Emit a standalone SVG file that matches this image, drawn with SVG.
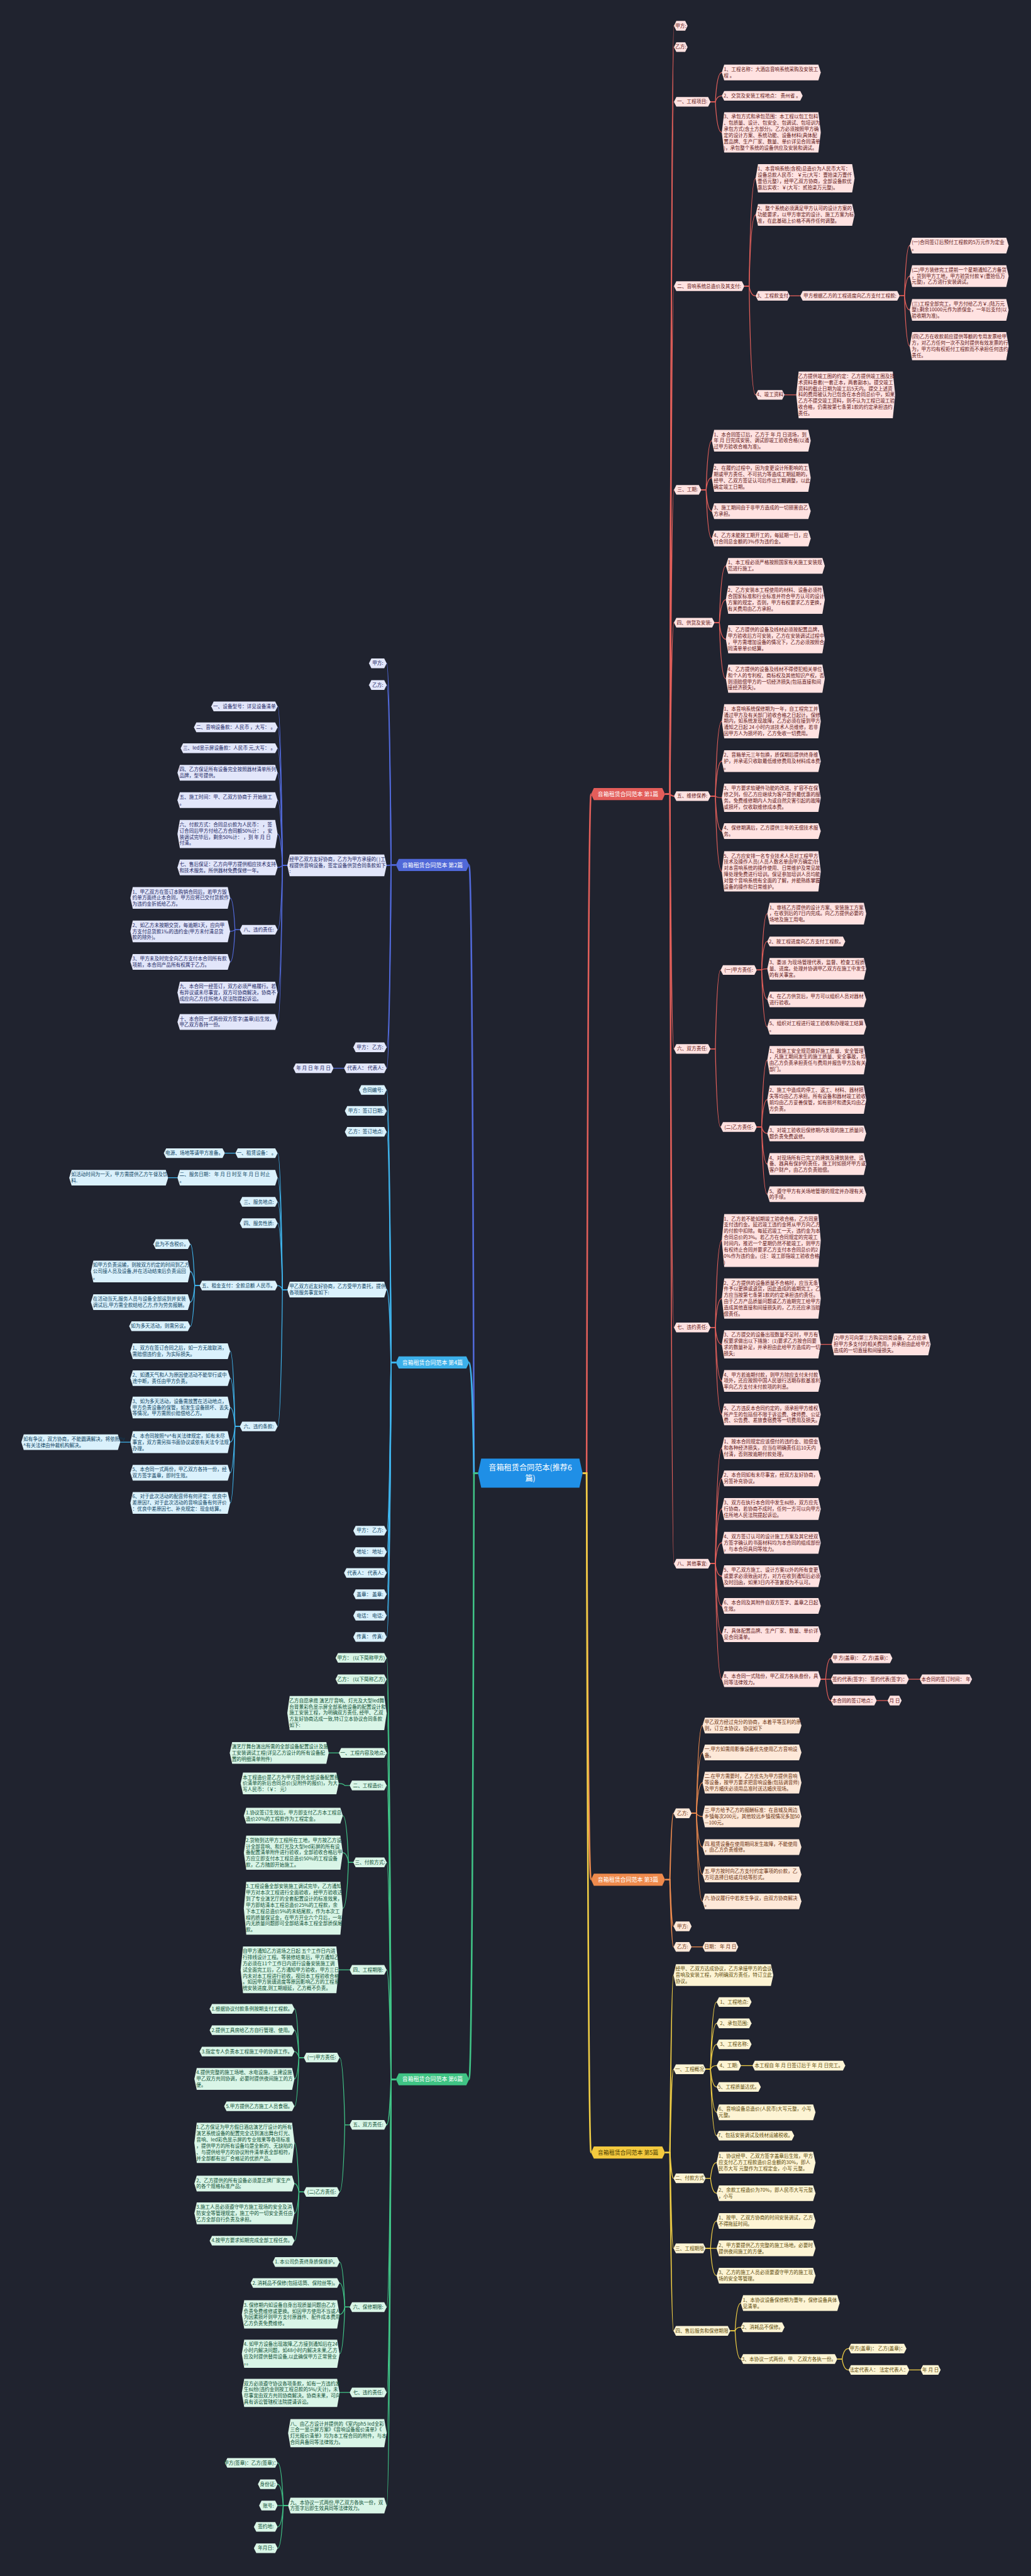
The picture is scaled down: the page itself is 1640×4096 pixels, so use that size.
<svg xmlns="http://www.w3.org/2000/svg" width="1640" height="4096" viewBox="0 0 1640 4096">
<style>
text{font-family:"Noto Sans CJK SC","Noto Sans",sans-serif;font-size:12px}
.c{text-anchor:middle}
.nr path{fill:#ffe2e1}.nr text{fill:#5e1414}
.no path{fill:#fde8d8}.no text{fill:#6a300c}
.ny path{fill:#fdf4d4}.ny text{fill:#5c4a08}
.ni path{fill:#e2e6fa}.ni text{fill:#18245e}
.ns path{fill:#daf1fc}.ns text{fill:#0b4260}
.ng path{fill:#d9f5e7}.ng text{fill:#0c4f33}
#connectors path{fill:none;stroke-width:2}
#connectors .t{stroke-width:4}
#connectors .m{stroke-width:3}
.cr{stroke:#e25f5a}.co{stroke:#ec8a4e}.cy{stroke:#efcd45}.ci{stroke:#5169d9}.cs{stroke:#3fb3eb}.cg{stroke:#40c487}
.b text{font-size:14px;fill:#fff;text-anchor:middle}
</style>
<rect width="1640" height="4096" fill="#20232f"/>
<g transform="scale(0.64)">
<g id="connectors">
<path class="cr t" d="M1448 3660H1458Q1462 1973 1469 1973"/>
<path class="co t" d="M1448 3660H1458Q1462 4670 1469 4670"/>
<path class="cy t" d="M1448 3660H1458Q1462 5348 1469 5348"/>
<path class="ci t" d="M1188 3660H1178Q1174 2149 1166 2149"/>
<path class="cs t" d="M1188 3660H1178Q1174 3385 1166 3385"/>
<path class="cg t" d="M1188 3660H1178Q1174 5166 1166 5166"/>
<g class="cr">
<path class="m" d="M1653 1973H1665Q1669 64 1675 64"/>
<path class="m" d="M1653 1973H1665Q1669 117 1675 117"/>
<path class="m" d="M1653 1973H1665Q1669 253 1675 253"/>
<path class="m" d="M1653 1973H1665Q1669 711 1675 711"/>
<path class="m" d="M1653 1973H1665Q1669 1217 1675 1217"/>
<path class="m" d="M1653 1973H1665Q1669 1547 1675 1547"/>
<path class="m" d="M1653 1973H1665Q1669 1978 1675 1978"/>
<path class="m" d="M1653 1973H1665Q1669 2606 1675 2606"/>
<path class="m" d="M1653 1973H1665Q1669 3298 1675 3298"/>
<path class="m" d="M1653 1973H1665Q1669 3885 1675 3885"/>
<path d="M1766 253H1778Q1782 180 1794 180"/>
<path d="M1766 253H1778Q1782 238 1794 238"/>
<path d="M1766 253H1778Q1782 329 1794 329"/>
<path d="M1850 711H1862Q1866 443 1878 443"/>
<path d="M1850 711H1862Q1866 534 1878 534"/>
<path d="M1850 711H1862Q1866 735 1878 735"/>
<path d="M1850 711H1862Q1866 981 1878 981"/>
<path d="M1963 735H1989"/>
<path d="M2236 735H2248Q2252 610 2261 610"/>
<path d="M2236 735H2248Q2252 686 2261 686"/>
<path d="M2236 735H2248Q2252 770 2261 770"/>
<path d="M2236 735H2248Q2252 860 2261 860"/>
<path d="M1950 981H1979"/>
<path d="M1743 1217H1755Q1759 1095 1769 1095"/>
<path d="M1743 1217H1755Q1759 1187 1769 1187"/>
<path d="M1743 1217H1755Q1759 1270 1769 1270"/>
<path d="M1743 1217H1755Q1759 1338 1769 1338"/>
<path d="M1776 1547H1788Q1792 1406 1804 1406"/>
<path d="M1776 1547H1788Q1792 1490 1804 1490"/>
<path d="M1776 1547H1788Q1792 1588 1804 1588"/>
<path d="M1776 1547H1788Q1792 1686 1804 1686"/>
<path d="M1766 1978H1778Q1782 1792 1794 1792"/>
<path d="M1766 1978H1778Q1782 1891 1794 1891"/>
<path d="M1766 1978H1778Q1782 1982 1794 1982"/>
<path d="M1766 1978H1778Q1782 2065 1794 2065"/>
<path d="M1766 1978H1778Q1782 2165 1794 2165"/>
<path d="M1766 2606H1778Q1782 2410 1791 2410"/>
<path d="M1766 2606H1778Q1782 2800 1791 2800"/>
<path d="M1881 2410H1893Q1897 2270 1907 2270"/>
<path d="M1881 2410H1893Q1897 2339 1907 2339"/>
<path d="M1881 2410H1893Q1897 2407 1907 2407"/>
<path d="M1881 2410H1893Q1897 2483 1907 2483"/>
<path d="M1881 2410H1893Q1897 2551 1907 2551"/>
<path d="M1881 2800H1893Q1897 2634 1907 2634"/>
<path d="M1881 2800H1893Q1897 2732 1907 2732"/>
<path d="M1881 2800H1893Q1897 2816 1907 2816"/>
<path d="M1881 2800H1893Q1897 2892 1907 2892"/>
<path d="M1881 2800H1893Q1897 2967 1907 2967"/>
<path d="M1766 3298H1778Q1782 3082 1794 3082"/>
<path d="M1766 3298H1778Q1782 3226 1794 3226"/>
<path d="M1766 3298H1778Q1782 3340 1794 3340"/>
<path d="M1766 3298H1778Q1782 3431 1794 3431"/>
<path d="M1766 3298H1778Q1782 3514 1794 3514"/>
<path d="M2040 3340H2067"/>
<path d="M1766 3885H1778Q1782 3598 1794 3598"/>
<path d="M1766 3885H1778Q1782 3673 1794 3673"/>
<path d="M1766 3885H1778Q1782 3749 1794 3749"/>
<path d="M1766 3885H1778Q1782 3833 1794 3833"/>
<path d="M1766 3885H1778Q1782 3916 1794 3916"/>
<path d="M1766 3885H1778Q1782 3990 1794 3990"/>
<path d="M1766 3885H1778Q1782 4060 1794 4060"/>
<path d="M1766 3885H1778Q1782 4172 1794 4172"/>
<path d="M2040 4172H2052Q2056 4120 2065 4120"/>
<path d="M2040 4172H2065"/>
<path d="M2040 4172H2052Q2056 4225 2065 4225"/>
<path d="M2259 4172H2286"/>
<path d="M2179 4225H2206"/>
</g>
<g class="co">
<path class="m" d="M1653 4670H1665Q1669 4505 1674 4505"/>
<path class="m" d="M1653 4670H1665Q1669 4786 1674 4786"/>
<path class="m" d="M1653 4670H1665Q1669 4837 1674 4837"/>
<path d="M1719 4505H1731Q1735 4287 1746 4287"/>
<path d="M1719 4505H1731Q1735 4354 1746 4354"/>
<path d="M1719 4505H1731Q1735 4429 1746 4429"/>
<path d="M1719 4505H1731Q1735 4513 1746 4513"/>
<path d="M1719 4505H1731Q1735 4589 1746 4589"/>
<path d="M1719 4505H1731Q1735 4657 1746 4657"/>
<path d="M1719 4505H1731Q1735 4724 1746 4724"/>
<path d="M1719 4837H1746"/>
</g>
<g class="cy">
<path class="m" d="M1653 5348H1665Q1669 4907 1674 4907"/>
<path class="m" d="M1653 5348H1665Q1669 5141 1674 5141"/>
<path class="m" d="M1653 5348H1665Q1669 5412 1674 5412"/>
<path class="m" d="M1653 5348H1665Q1669 5586 1674 5586"/>
<path class="m" d="M1653 5348H1665Q1669 5791 1674 5791"/>
<path d="M1754 5141H1766Q1770 4974 1781 4974"/>
<path d="M1754 5141H1766Q1770 5027 1781 5027"/>
<path d="M1754 5141H1766Q1770 5079 1781 5079"/>
<path d="M1754 5141H1766Q1770 5132 1781 5132"/>
<path d="M1754 5141H1766Q1770 5185 1781 5185"/>
<path d="M1754 5141H1766Q1770 5248 1781 5248"/>
<path d="M1754 5141H1766Q1770 5306 1781 5306"/>
<path d="M1842 5132H1870"/>
<path d="M1754 5412H1766Q1770 5373 1781 5373"/>
<path d="M1754 5412H1766Q1770 5449 1781 5449"/>
<path d="M1754 5586H1766Q1770 5518 1781 5518"/>
<path d="M1754 5586H1781"/>
<path d="M1754 5586H1766Q1770 5654 1781 5654"/>
<path d="M1815 5791H1827Q1831 5722 1841 5722"/>
<path d="M1815 5791H1827Q1831 5782 1841 5782"/>
<path d="M1815 5791H1827Q1831 5861 1841 5861"/>
<path d="M2081 5861H2093Q2097 5835 2109 5835"/>
<path d="M2081 5861H2093Q2097 5888 2109 5888"/>
<path d="M2260 5888H2288"/>
</g>
<g class="ci">
<path class="m" d="M984 2149H972Q968 1648 961 1648"/>
<path class="m" d="M984 2149H972Q968 1702 961 1702"/>
<path class="m" d="M984 2149H972Q968 2150 961 2150"/>
<path class="m" d="M984 2149H972Q968 2602 961 2602"/>
<path class="m" d="M984 2149H972Q968 2654 961 2654"/>
<path d="M714 2150H702Q698 1755 690 1755"/>
<path d="M714 2150H702Q698 1807 690 1807"/>
<path d="M714 2150H702Q698 1859 690 1859"/>
<path d="M714 2150H702Q698 1920 690 1920"/>
<path d="M714 2150H702Q698 1988 690 1988"/>
<path d="M714 2150H702Q698 2072 690 2072"/>
<path d="M714 2150H702Q698 2155 690 2155"/>
<path d="M714 2150H702Q698 2310 690 2310"/>
<path d="M714 2150H702Q698 2466 690 2466"/>
<path d="M714 2150H702Q698 2539 690 2539"/>
<path d="M596 2310H584Q580 2231 572 2231"/>
<path d="M596 2310H584Q580 2314 572 2314"/>
<path d="M596 2310H584Q580 2390 572 2390"/>
<path d="M855 2654H829"/>
</g>
<g class="cs">
<path class="m" d="M984 3385H972Q968 2708 961 2708"/>
<path class="m" d="M984 3385H972Q968 2760 961 2760"/>
<path class="m" d="M984 3385H972Q968 2812 961 2812"/>
<path class="m" d="M984 3385H972Q968 3204 961 3204"/>
<path class="m" d="M984 3385H972Q968 3803 961 3803"/>
<path class="m" d="M984 3385H972Q968 3856 961 3856"/>
<path class="m" d="M984 3385H972Q968 3908 961 3908"/>
<path class="m" d="M984 3385H972Q968 3961 961 3961"/>
<path class="m" d="M984 3385H972Q968 4014 961 4014"/>
<path class="m" d="M984 3385H972Q968 4067 961 4067"/>
<path d="M714 3204H702Q698 2865 690 2865"/>
<path d="M714 3204H702Q698 2926 690 2926"/>
<path d="M714 3204H702Q698 2986 690 2986"/>
<path d="M714 3204H702Q698 3039 690 3039"/>
<path d="M714 3204H702Q698 3194 690 3194"/>
<path d="M714 3204H702Q698 3544 690 3544"/>
<path d="M585 2865H559"/>
<path d="M441 2926H418"/>
<path d="M496 3194H484Q480 3091 473 3091"/>
<path d="M496 3194H484Q480 3159 473 3159"/>
<path d="M496 3194H484Q480 3235 473 3235"/>
<path d="M496 3194H484Q480 3295 473 3295"/>
<path d="M596 3544H584Q580 3357 572 3357"/>
<path d="M596 3544H584Q580 3424 572 3424"/>
<path d="M596 3544H584Q580 3497 572 3497"/>
<path d="M596 3544H584Q580 3583 572 3583"/>
<path d="M596 3544H584Q580 3659 572 3659"/>
<path d="M596 3544H584Q580 3734 572 3734"/>
<path d="M324 3583H299"/>
</g>
<g class="cg">
<path class="m" d="M984 5166H972Q968 4119 961 4119"/>
<path class="m" d="M984 5166H972Q968 4172 961 4172"/>
<path class="m" d="M984 5166H972Q968 4256 961 4256"/>
<path class="m" d="M984 5166H972Q968 4355 961 4355"/>
<path class="m" d="M984 5166H972Q968 4436 961 4436"/>
<path class="m" d="M984 5166H972Q968 4627 961 4627"/>
<path class="m" d="M984 5166H972Q968 4894 961 4894"/>
<path class="m" d="M984 5166H972Q968 5279 961 5279"/>
<path class="m" d="M984 5166H972Q968 5732 961 5732"/>
<path class="m" d="M984 5166H972Q968 5944 961 5944"/>
<path class="m" d="M984 5166H972Q968 6045 961 6045"/>
<path class="m" d="M984 5166H972Q968 6225 961 6225"/>
<path d="M842 4355H817"/>
<path d="M869 4436H857Q853 4431 842 4431"/>
<path d="M878 4627H866Q862 4511 852 4511"/>
<path d="M878 4627H866Q862 4603 852 4603"/>
<path d="M878 4627H866Q862 4741 852 4741"/>
<path d="M869 4894H842"/>
<path d="M869 5279H857Q853 5112 844 5112"/>
<path d="M869 5279H857Q853 5446 844 5446"/>
<path d="M755 5112H743Q739 4991 732 4991"/>
<path d="M755 5112H743Q739 5044 732 5044"/>
<path d="M755 5112H743Q739 5097 732 5097"/>
<path d="M755 5112H743Q739 5165 732 5165"/>
<path d="M755 5112H743Q739 5233 732 5233"/>
<path d="M755 5446H743Q739 5324 732 5324"/>
<path d="M755 5446H743Q739 5425 732 5425"/>
<path d="M755 5446H743Q739 5499 732 5499"/>
<path d="M755 5446H743Q739 5567 732 5567"/>
<path d="M869 5732H857Q853 5620 844 5620"/>
<path d="M869 5732H857Q853 5672 844 5672"/>
<path d="M869 5732H857Q853 5750 844 5750"/>
<path d="M869 5732H857Q853 5848 844 5848"/>
<path d="M869 5944H844"/>
<path d="M716 6225H704Q700 6119 690 6119"/>
<path d="M716 6225H704Q700 6172 690 6172"/>
<path d="M716 6225H690"/>
<path d="M716 6225H704Q700 6278 690 6278"/>
<path d="M716 6225H704Q700 6331 690 6331"/>
</g>
</g>

<g id="center"><path d="M1196 3624h244l8 36l-8 36h-244l-8 -36z" fill="#1f8fe6"/><text x="1318" y="3653" text-anchor="middle" fill="#fff" style="font-size:19px">音箱租赁合同范本(推荐6<tspan x="1318" dy="26">篇)</tspan></text></g>

<g id="b1" class="b"><path d="M1476 1958h170l7 15l-7 15h-170l-7 -15z" fill="#e35d5a"/><text x="1561" y="1978">音箱租赁合同范本 第1篇</text></g>
<g id="b3" class="b"><path d="M1476 4655h170l7 15l-7 15h-170l-7 -15z" fill="#ee8a4c"/><text x="1561" y="4675">音箱租赁合同范本 第3篇</text></g>
<g id="b5" class="b"><path d="M1476 5333h170l7 15l-7 15h-170l-7 -15z" fill="#f3c93e"/><text x="1561" y="5353" style="fill:#4a3b00">音箱租赁合同范本 第5篇</text></g>
<g id="b2" class="b"><path d="M991 2134h168l7 15l-7 15h-168l-7 -15z" fill="#5068d8"/><text x="1075" y="2154">音箱租赁合同范本 第2篇</text></g>
<g id="b4" class="b"><path d="M991 3370h168l7 15l-7 15h-168l-7 -15z" fill="#3cb0ea"/><text x="1075" y="3390">音箱租赁合同范本 第4篇</text></g>
<g id="b6" class="b"><path d="M991 5151h168l7 15l-7 15h-168l-7 -15z" fill="#3fc384"/><text x="1075" y="5171">音箱租赁合同范本 第6篇</text></g>

<g id="r1" class="nr"><path d="M1681 52h22l6 12l-6 12h-22l-6 -12z"/><text class="c" x="1692" y="68">甲方:</text></g>
<g id="r2" class="nr"><path d="M1681 105h22l6 12l-6 12h-22l-6 -12z"/><text class="c" x="1692" y="121">乙方:</text></g>
<g id="r3" class="nr"><path d="M1681 241h79l6 12l-6 12h-79l-6 -12z"/><text class="c" x="1720.5" y="257">一、工程项目:</text></g>
<g id="r4" class="nr"><path d="M1681 699h163l6 12l-6 12h-163l-6 -12z"/><text class="c" x="1762.5" y="715">二、音响系统总造价及其支付:</text></g>
<g id="r5" class="nr"><path d="M1681 1205h56l6 12l-6 12h-56l-6 -12z"/><text class="c" x="1709" y="1221">三、工期:</text></g>
<g id="r6" class="nr"><path d="M1681 1535h89l6 12l-6 12h-89l-6 -12z"/><text class="c" x="1725.5" y="1551">四、供货及安装:</text></g>
<g id="r7" class="nr"><path d="M1681 1966h79l6 12l-6 12h-79l-6 -12z"/><text class="c" x="1720.5" y="1982">五、维修保养:</text></g>
<g id="r8" class="nr"><path d="M1681 2594h79l6 12l-6 12h-79l-6 -12z"/><text class="c" x="1720.5" y="2610">六、双方责任:</text></g>
<g id="r9" class="nr"><path d="M1681 3286h79l6 12l-6 12h-79l-6 -12z"/><text class="c" x="1720.5" y="3302">七、违约责任:</text></g>
<g id="r10" class="nr"><path d="M1681 3873h79l6 12l-6 12h-79l-6 -12z"/><text class="c" x="1720.5" y="3889">八、其他事宜:</text></g>

<g id="r3a" class="nr"><path d="M1800 160.5h234l6 19.5l-6 19.5h-234l-6 -19.5z"/><text x="1799" y="176.3">1、工程名称：大酒店音响系统采购及安装工<tspan x="1799" dy="15.4">程 。</tspan></text></g>
<g id="r3b" class="nr"><path d="M1800 226h189l6 12l-6 12h-189l-6 -12z"/><text class="c" x="1894.5" y="242">2、交货及安装工程地点： 贵州省 。</text></g>
<g id="r3c" class="nr"><path d="M1800 279h234l6 50l-6 50h-234l-6 -50z"/><text x="1799" y="294.5">3、承包方式和承包范围：本工程以包工包料<tspan x="1799" dy="15.4">、包质量、设计、包安全、包调试、包培训为</tspan><tspan x="1799" dy="15.4">承包方式(含土方部分)。乙方必须按照甲方确</tspan><tspan x="1799" dy="15.4">定的设计方案、系统功能、设备材料(具体配</tspan><tspan x="1799" dy="15.4">置品牌、生产厂家、数量、单价详见合同清单</tspan><tspan x="1799" dy="15.4">)，承包整个系统的设备供应及安装和调试。</tspan></text></g>

<g id="r4a" class="nr"><path d="M1884 408h234l6 35l-6 35h-234l-6 -35z"/><text x="1883" y="423.9">1、本音响系统(含税)总造价为人民币大写：<tspan x="1883" dy="15.4">设备总款人民币： ￥元(大写：壹拾柒万壹仟</tspan><tspan x="1883" dy="15.4">壹佰元整），经甲乙双方协商，全部设备款优</tspan><tspan x="1883" dy="15.4">惠后实收：￥(大写：贰拾柒万元整)。</tspan></text></g>
<g id="r4b" class="nr"><path d="M1884 507h234l6 27l-6 27h-234l-6 -27z"/><text x="1883" y="522.6">2、整个系统必须满足甲方认可的设计方案的<tspan x="1883" dy="15.4">功能要求，以甲方审定的设计、施工方案为标</tspan><tspan x="1883" dy="15.4">准，在此基础上价格不再作任何调整。</tspan></text></g>
<g id="r4c" class="nr"><path d="M1884 723h73l6 12l-6 12h-73l-6 -12z"/><text class="c" x="1920.5" y="739">3、工程款支付</text></g>
<g id="r4c1" class="nr"><path d="M1995 723h235l6 12l-6 12h-235l-6 -12z"/><text class="c" x="2112.5" y="739">甲方根据乙方的工程进度向乙方支付工程款:</text></g>
<g id="r4c1a" class="nr"><path d="M2267 590.5h234l6 19.5l-6 19.5h-234l-6 -19.5z"/><text x="2266" y="606.3">(一)合同签订后预付工程款的5万元作为定金<tspan x="2266" dy="15.4">。</tspan></text></g>
<g id="r4c1b" class="nr"><path d="M2267 659h234l6 27l-6 27h-234l-6 -27z"/><text x="2266" y="674.6">(二)甲方装修完工提前一个星期通知乙方备货<tspan x="2266" dy="15.4">，货到甲方工地，甲方验货付款￥(壹拾伍万</tspan><tspan x="2266" dy="15.4">元整)，乙方进行安装调试。</tspan></text></g>
<g id="r4c1c" class="nr"><path d="M2267 743h234l6 27l-6 27h-234l-6 -27z"/><text x="2266" y="758.6">(三)工程全部完工，甲方付给乙方￥.(陆万元<tspan x="2266" dy="15.4">整);剩余10000元作为质保金，一年后支付(以</tspan><tspan x="2266" dy="15.4">验收期为准)。</tspan></text></g>
<g id="r4c1d" class="nr"><path d="M2267 825h234l6 35l-6 35h-234l-6 -35z"/><text x="2266" y="840.9">(四)乙方在收款前应提供等额的专用发票给甲<tspan x="2266" dy="15.4">方，对乙方任何一次不及时提供有效发票的行</tspan><tspan x="2266" dy="15.4">为，甲方均有权拒付工程款而不承担任何违约</tspan><tspan x="2266" dy="15.4">责任。</tspan></text></g>
<g id="r4d" class="nr"><path d="M1884 969h60l6 12l-6 12h-60l-6 -12z"/><text class="c" x="1914" y="985">4、竣工资料</text></g>
<g id="r4d1" class="nr"><path d="M1985 923h234l6 58l-6 58h-234l-6 -58z"/><text x="1984" y="938.8">乙方提供竣工图的约定：乙方提供竣工图及技<tspan x="1984" dy="15.4">术资料叁套(一套正本，两套副本)。提交竣工</tspan><tspan x="1984" dy="15.4">资料的截止日期为竣工后5天内。提交上述资</tspan><tspan x="1984" dy="15.4">料的费用被认为已包含在本合同总价中，如果</tspan><tspan x="1984" dy="15.4">乙方不提交竣工资料，则不认为工程已竣工验</tspan><tspan x="1984" dy="15.4">收合格，仍需按第七条第1款的约定承担违约</tspan><tspan x="1984" dy="15.4">责任。</tspan></text></g>

<g id="r5a" class="nr"><path d="M1775 1068h234l6 27l-6 27h-234l-6 -27z"/><text x="1774" y="1083.6">1、本合同签订后，乙方于 年 月 日进场，到<tspan x="1774" dy="15.4">年 月 日完成安装、调试即竣工验收合格(以通</tspan><tspan x="1774" dy="15.4">过甲方验收合格为准)。</tspan></text></g>
<g id="r5b" class="nr"><path d="M1775 1152h234l6 35l-6 35h-234l-6 -35z"/><text x="1774" y="1167.9">2、在履约过程中，因为变更设计所影响的工<tspan x="1774" dy="15.4">期或甲方责任、不可抗力等造成工期延期的，</tspan><tspan x="1774" dy="15.4">经甲、乙双方签证认可后作出工期调整，以此</tspan><tspan x="1774" dy="15.4">确定竣工日期。</tspan></text></g>
<g id="r5c" class="nr"><path d="M1775 1250.5h234l6 19.5l-6 19.5h-234l-6 -19.5z"/><text x="1774" y="1266.3">3、施工期间由于非甲方造成的一切损害由乙<tspan x="1774" dy="15.4">方承担。</tspan></text></g>
<g id="r5d" class="nr"><path d="M1775 1318.5h234l6 19.5l-6 19.5h-234l-6 -19.5z"/><text x="1774" y="1334.3">4、乙方未能按工期开工的，每延期一日，应<tspan x="1774" dy="15.4">付合同总金额的3%作为违约金。</tspan></text></g>

<g id="r6a" class="nr"><path d="M1810 1386.5h234l6 19.5l-6 19.5h-234l-6 -19.5z"/><text x="1809" y="1402.3">1、本工程必须严格按照国家有关施工安装规<tspan x="1809" dy="15.4">范进行施工。</tspan></text></g>
<g id="r6b" class="nr"><path d="M1810 1455h234l6 35l-6 35h-234l-6 -35z"/><text x="1809" y="1470.9">2、乙方安装本工程使用的材料、设备必须符<tspan x="1809" dy="15.4">合国家标准和行业标准并符合甲方认可的设计</tspan><tspan x="1809" dy="15.4">方案的规定，否则，甲方有权要求乙方更换，</tspan><tspan x="1809" dy="15.4">有关费用由乙方承担。</tspan></text></g>
<g id="r6c" class="nr"><path d="M1810 1553h234l6 35l-6 35h-234l-6 -35z"/><text x="1809" y="1568.9">3、乙方提供的设备及线材必须按配置品牌，<tspan x="1809" dy="15.4">甲方验收后方可安装，乙方在安装调试过程中</tspan><tspan x="1809" dy="15.4">，甲方需增加设备的情况下，乙方必须按照合</tspan><tspan x="1809" dy="15.4">同清单单价结算。</tspan></text></g>
<g id="r6d" class="nr"><path d="M1810 1651h234l6 35l-6 35h-234l-6 -35z"/><text x="1809" y="1666.9">4、乙方提供的设备及线材不得侵犯相关单位<tspan x="1809" dy="15.4">和个人的专利权、商标权及其他知识产权，否</tspan><tspan x="1809" dy="15.4">则须赔偿甲方的一切经济损失(包括直接和间</tspan><tspan x="1809" dy="15.4">接经济损失)。</tspan></text></g>

<g id="r7a" class="nr"><path d="M1800 1749.5h234l6 42.5l-6 42.5h-234l-6 -42.5z"/><text x="1799" y="1765.2">1、本音响系统保修期为一年，自工程完工并<tspan x="1799" dy="15.4">通过甲方及有关部门验收合格之日起计。保修</tspan><tspan x="1799" dy="15.4">期内，如系统发现故障，乙方必须在接到甲方</tspan><tspan x="1799" dy="15.4">通知之日起 24 小时内派技术人员维修，若非</tspan><tspan x="1799" dy="15.4">因甲方人为损坏的，乙方免收一切费用。</tspan></text></g>
<g id="r7b" class="nr"><path d="M1800 1864h234l6 27l-6 27h-234l-6 -27z"/><text x="1799" y="1879.6">2、音箱单元三年包换，质保期后提供终身维<tspan x="1799" dy="15.4">护，并承诺只收取最低维修费用及材料成本费</tspan><tspan x="1799" dy="15.4">。</tspan></text></g>
<g id="r7c" class="nr"><path d="M1800 1947h234l6 35l-6 35h-234l-6 -35z"/><text x="1799" y="1962.9">3、甲方要求软硬件功能的改进、扩容不在保<tspan x="1799" dy="15.4">修之列，但乙方应继续为客户提供最优惠的服</tspan><tspan x="1799" dy="15.4">务。免费维修期内人为或自然灾害引起的故障</tspan><tspan x="1799" dy="15.4">或损坏，仅收取维修成本费。</tspan></text></g>
<g id="r7d" class="nr"><path d="M1800 2045.5h234l6 19.5l-6 19.5h-234l-6 -19.5z"/><text x="1799" y="2061.3">4、保修期满后，乙方提供三年的无偿技术服<tspan x="1799" dy="15.4">务。</tspan></text></g>
<g id="r7e" class="nr"><path d="M1800 2115h234l6 50l-6 50h-234l-6 -50z"/><text x="1799" y="2130.5">5、乙方应安排一名专业技术人员对工程甲方<tspan x="1799" dy="15.4">技术及操作人员(人员人数名单由甲方确定)针</tspan><tspan x="1799" dy="15.4">对本音响系统的操作使用、日常维护及常见故</tspan><tspan x="1799" dy="15.4">障处理免费进行培训。保证参加培训人员均能</tspan><tspan x="1799" dy="15.4">对整个音响系统有全面的了解，并能熟练掌握</tspan><tspan x="1799" dy="15.4">设备的操作和日常维护。</tspan></text></g>

<g id="r8a" class="nr"><path d="M1797 2398h78l6 12l-6 12h-78l-6 -12z"/><text class="c" x="1836" y="2414">(一)甲方责任:</text></g>
<g id="r8b" class="nr"><path d="M1797 2788h78l6 12l-6 12h-78l-6 -12z"/><text class="c" x="1836" y="2804">(二)乙方责任:</text></g>
<g id="r8a1" class="nr"><path d="M1913 2243h234l6 27l-6 27h-234l-6 -27z"/><text x="1912" y="2258.6">1、审核乙方提供的设计方案、安装施工方案<tspan x="1912" dy="15.4">，在收到后的7日内完成。向乙方提供必要的</tspan><tspan x="1912" dy="15.4">场地及施工用电。</tspan></text></g>
<g id="r8a2" class="nr"><path d="M1913 2327h182l6 12l-6 12h-182l-6 -12z"/><text class="c" x="2004" y="2343">2、按工程进度向乙方支付工程款。</text></g>
<g id="r8a3" class="nr"><path d="M1913 2380h234l6 27l-6 27h-234l-6 -27z"/><text x="1912" y="2395.6">3、委派 为现场管理代表，监督、检查工程质<tspan x="1912" dy="15.4">量、进度。处理并协调甲乙双方在施工中发生</tspan><tspan x="1912" dy="15.4">的有关事宜。</tspan></text></g>
<g id="r8a4" class="nr"><path d="M1913 2463.5h234l6 19.5l-6 19.5h-234l-6 -19.5z"/><text x="1912" y="2479.3">4、在乙方供货后，甲方可以组织人员对器材<tspan x="1912" dy="15.4">进行验收。</tspan></text></g>
<g id="r8a5" class="nr"><path d="M1913 2531.5h234l6 19.5l-6 19.5h-234l-6 -19.5z"/><text x="1912" y="2547.3">5、组织对工程进行竣工验收和办理竣工结算<tspan x="1912" dy="15.4">。</tspan></text></g>
<g id="r8b1" class="nr"><path d="M1913 2599h234l6 35l-6 35h-234l-6 -35z"/><text x="1912" y="2614.9">1、按施工安全规范做好施工质量、安全管理<tspan x="1912" dy="15.4">，凡施工期间发生的施工质量、安全事故，均</tspan><tspan x="1912" dy="15.4">由乙方负责承担责任与费用并报告甲方及有关</tspan><tspan x="1912" dy="15.4">部门。</tspan></text></g>
<g id="r8b2" class="nr"><path d="M1913 2697h234l6 35l-6 35h-234l-6 -35z"/><text x="1912" y="2712.9">2、施工中造成的停工、返工、材料、器材损<tspan x="1912" dy="15.4">失等均由乙方承担。所有设备和器材竣工验收</tspan><tspan x="1912" dy="15.4">前均由乙方妥善保管，如有损坏和遗失均由乙</tspan><tspan x="1912" dy="15.4">方负责。</tspan></text></g>
<g id="r8b3" class="nr"><path d="M1913 2796.5h234l6 19.5l-6 19.5h-234l-6 -19.5z"/><text x="1912" y="2812.3">3、对竣工验收后保修期内发现的施工质量问<tspan x="1912" dy="15.4">题负责免费返修。</tspan></text></g>
<g id="r8b4" class="nr"><path d="M1913 2865h234l6 27l-6 27h-234l-6 -27z"/><text x="1912" y="2880.6">4、对现场所有已完工的建筑及建筑装修、设<tspan x="1912" dy="15.4">备、器具有保护的责任，施工时如损坏甲方或</tspan><tspan x="1912" dy="15.4">客户财产，由乙方负责赔偿。</tspan></text></g>
<g id="r8b5" class="nr"><path d="M1913 2947.5h234l6 19.5l-6 19.5h-234l-6 -19.5z"/><text x="1912" y="2963.3">5、遵守甲方有关场地管理的规定并办理有关<tspan x="1912" dy="15.4">的手续。</tspan></text></g>

<g id="r9a" class="nr"><path d="M1800 3016.5h234l6 65.5l-6 65.5h-234l-6 -65.5z"/><text x="1799" y="3032.1">1、乙方若不能如期竣工验收合格，乙方同意<tspan x="1799" dy="15.4">支付违约金。延迟竣工违约金将从甲方向乙方</tspan><tspan x="1799" dy="15.4">的付款中扣除。每延迟竣工一天，违约金为本</tspan><tspan x="1799" dy="15.4">合同总价的3%。若乙方在合同规定的完竣工</tspan><tspan x="1799" dy="15.4">时间内，推迟一个星期仍然不能竣工，则甲方</tspan><tspan x="1799" dy="15.4">有权终止合同并要求乙方支付本合同总价的2</tspan><tspan x="1799" dy="15.4">0%作为违约金。(注：竣工即指竣工验收合格</tspan><tspan x="1799" dy="15.4">)</tspan></text></g>
<g id="r9b" class="nr"><path d="M1800 3176h234l6 50l-6 50h-234l-6 -50z"/><text x="1799" y="3191.5">2、乙方提供的设备质量不合格时，应当无条<tspan x="1799" dy="15.4">件予以更换或退货，因此造成的逾期完工，乙</tspan><tspan x="1799" dy="15.4">方应当按第七条第1款的约定承担违约责任。</tspan><tspan x="1799" dy="15.4">由于乙方产品质量问题或乙方逾期完工给甲方</tspan><tspan x="1799" dy="15.4">造成其他直接和间接损失的，乙方还应承当赔</tspan><tspan x="1799" dy="15.4">偿责任。</tspan></text></g>
<g id="r9c" class="nr"><path d="M1800 3305h234l6 35l-6 35h-234l-6 -35z"/><text x="1799" y="3320.9">3、乙方提交的设备出现数量不足时，甲方有<tspan x="1799" dy="15.4">权要求做出以下措施：(1)要求乙方按合同要</tspan><tspan x="1799" dy="15.4">求的数量补足，并承担由此给甲方造成的一切</tspan><tspan x="1799" dy="15.4">损失;</tspan></text></g>
<g id="r9c1" class="nr"><path d="M2073 3313h234l6 27l-6 27h-234l-6 -27z"/><text x="2072" y="3328.6">(2)甲方可向第三方购买同类设备，乙方应承<tspan x="2072" dy="15.4">担甲方多支付的相关费用，并承担由此给甲方</tspan><tspan x="2072" dy="15.4">造成的一切直接和间接损失。</tspan></text></g>
<g id="r9d" class="nr"><path d="M1800 3404h234l6 27l-6 27h-234l-6 -27z"/><text x="1799" y="3419.6">4、甲方若逾期付款，则甲方除应支付未付款<tspan x="1799" dy="15.4">项外，还应按照中国人民银行活期存款基准利</tspan><tspan x="1799" dy="15.4">率向乙方支付未付款项的利息。</tspan></text></g>
<g id="r9e" class="nr"><path d="M1800 3487h234l6 27l-6 27h-234l-6 -27z"/><text x="1799" y="3502.6">5、乙方违反本合同约定的，须承担甲方维权<tspan x="1799" dy="15.4">所产生的包括但不限于诉讼费、律师费、公证</tspan><tspan x="1799" dy="15.4">费、公告费、差旅食宿费等一切费用及损失。</tspan></text></g>

<g id="r10a" class="nr"><path d="M1800 3571h234l6 27l-6 27h-234l-6 -27z"/><text x="1799" y="3586.6">1、按本合同规定应该偿付的违约金、赔偿金<tspan x="1799" dy="15.4">和各种经济损失，应当在明确责任后10天内</tspan><tspan x="1799" dy="15.4">付清，否则按逾期付款处理。</tspan></text></g>
<g id="r10b" class="nr"><path d="M1800 3653.5h234l6 19.5l-6 19.5h-234l-6 -19.5z"/><text x="1799" y="3669.3">2、本合同如有未尽事宜，经双方友好协商，<tspan x="1799" dy="15.4">另签补充协议。</tspan></text></g>
<g id="r10c" class="nr"><path d="M1800 3722h234l6 27l-6 27h-234l-6 -27z"/><text x="1799" y="3737.6">3、双方在执行本合同中发生纠纷，双方应先<tspan x="1799" dy="15.4">行协商，若协商不成时，任何一方可以向甲方</tspan><tspan x="1799" dy="15.4">住所地人民法院提起诉讼。</tspan></text></g>
<g id="r10d" class="nr"><path d="M1800 3806h234l6 27l-6 27h-234l-6 -27z"/><text x="1799" y="3821.6">4、双方签订认可的设计施工方案及其它经双<tspan x="1799" dy="15.4">方签字确认的书面材料均为本合同的组成部份</tspan><tspan x="1799" dy="15.4">，与本合同具同等效力。</tspan></text></g>
<g id="r10e" class="nr"><path d="M1800 3889h234l6 27l-6 27h-234l-6 -27z"/><text x="1799" y="3904.6">5、甲乙双方施工、设计方案以外的所有变更<tspan x="1799" dy="15.4">或要求必须致函对方，对方在收到通知后必须</tspan><tspan x="1799" dy="15.4">及时回函，如果3日内不答复视为不认可。</tspan></text></g>
<g id="r10f" class="nr"><path d="M1800 3970.5h234l6 19.5l-6 19.5h-234l-6 -19.5z"/><text x="1799" y="3986.3">6、本合同及其附件自双方签字、盖章之日起<tspan x="1799" dy="15.4">生效。</tspan></text></g>
<g id="r10g" class="nr"><path d="M1800 4040.5h234l6 19.5l-6 19.5h-234l-6 -19.5z"/><text x="1799" y="4056.3">7、具体配置品牌、生产厂家、数量、单价详<tspan x="1799" dy="15.4">见合同清单。</tspan></text></g>
<g id="r10h" class="nr"><path d="M1800 4152.5h234l6 19.5l-6 19.5h-234l-6 -19.5z"/><text x="1799" y="4168.3">8、本合同一式陆份，甲乙双方各执叁份，具<tspan x="1799" dy="15.4">同等法律效力。</tspan></text></g>
<g id="r10h1" class="nr"><path d="M2071 4108h141l6 12l-6 12h-141l-6 -12z"/><text class="c" x="2141.5" y="4124">甲 方(盖章)： 乙 方(盖章)：</text></g>
<g id="r10h2" class="nr"><path d="M2071 4160h182l6 12l-6 12h-182l-6 -12z"/><text class="c" x="2162" y="4176">签约代表(签字)： 签约代表(签字)：</text></g>
<g id="r10h2a" class="nr"><path d="M2292 4160h118l6 12l-6 12h-118l-6 -12z"/><text class="c" x="2351" y="4176">本合同的签订时间： 年</text></g>
<g id="r10h3" class="nr"><path d="M2071 4213h102l6 12l-6 12h-102l-6 -12z"/><text class="c" x="2122" y="4229">本合同的签订地点：</text></g>
<g id="r10h3a" class="nr"><path d="M2212 4213h23l6 12l-6 12h-23l-6 -12z"/><text class="c" x="2223.5" y="4229">月 日</text></g>

<g id="o1" class="no"><path d="M1680 4493h33l6 12l-6 12h-33l-6 -12z"/><text class="c" x="1696.5" y="4509">乙方:</text></g>
<g id="o2" class="no"><path d="M1680 4774h33l6 12l-6 12h-33l-6 -12z"/><text class="c" x="1696.5" y="4790">甲方:</text></g>
<g id="o3" class="no"><path d="M1680 4825h33l6 12l-6 12h-33l-6 -12z"/><text class="c" x="1696.5" y="4841">乙方:</text></g>
<g id="o3a" class="no"><path d="M1752 4825h77l6 12l-6 12h-77l-6 -12z"/><text class="c" x="1790.5" y="4841">日期： 年 月 日</text></g>
<g id="o1a" class="no"><path d="M1752 4267.5h234l6 19.5l-6 19.5h-234l-6 -19.5z"/><text x="1751" y="4283.3">甲乙双方经过充分的协商，本着平等互利的原<tspan x="1751" dy="15.4">则，订立本协议，协议如下</tspan></text></g>
<g id="o1b" class="no"><path d="M1752 4334.5h234l6 19.5l-6 19.5h-234l-6 -19.5z"/><text x="1751" y="4350.3">一.甲方如需用影像设备优先使用乙方音响设<tspan x="1751" dy="15.4">备。</tspan></text></g>
<g id="o1c" class="no"><path d="M1752 4402h234l6 27l-6 27h-234l-6 -27z"/><text x="1751" y="4417.6">二.在甲方需要时，乙方优先为甲方提供音响<tspan x="1751" dy="15.4">等设备，按甲方要求把音响设备(包括调音师)</tspan><tspan x="1751" dy="15.4">及甲方婚庆必须用品准时送达婚庆现场。</tspan></text></g>
<g id="o1d" class="no"><path d="M1752 4486h234l6 27l-6 27h-234l-6 -27z"/><text x="1751" y="4501.6">三.甲方给予乙方的报酬标准：在县城及周边<tspan x="1751" dy="15.4">乡镇每次200元，其他较远乡镇视情况多加50</tspan><tspan x="1751" dy="15.4">—100元。</tspan></text></g>
<g id="o1e" class="no"><path d="M1752 4569.5h234l6 19.5l-6 19.5h-234l-6 -19.5z"/><text x="1751" y="4585.3">四.租赁设备在使用期间发生故障，不能使用<tspan x="1751" dy="15.4">，由乙方负责维修。</tspan></text></g>
<g id="o1f" class="no"><path d="M1752 4637.5h234l6 19.5l-6 19.5h-234l-6 -19.5z"/><text x="1751" y="4653.3">五.甲方按时向乙方支付约定事项的价款，乙<tspan x="1751" dy="15.4">方可选择日结或月结等形式。</tspan></text></g>
<g id="o1g" class="no"><path d="M1752 4704.5h234l6 19.5l-6 19.5h-234l-6 -19.5z"/><text x="1751" y="4720.3">六.协议履行中若发生争议，由双方协商解决<tspan x="1751" dy="15.4">。</tspan></text></g>

<g id="y1" class="ny"><path d="M1680 4880h236l6 27l-6 27h-236l-6 -27z"/><text x="1679" y="4895.6">经甲、乙双方达成协议，乙方承接甲方的会议<tspan x="1679" dy="15.4">音响及安装工程，为明确双方责任，特订立此</tspan><tspan x="1679" dy="15.4">协议。</tspan></text></g>
<g id="y2" class="ny"><path d="M1680 5129h68l6 12l-6 12h-68l-6 -12z"/><text class="c" x="1714" y="5145">一、工程概况</text></g>
<g id="y3" class="ny"><path d="M1680 5400h68l6 12l-6 12h-68l-6 -12z"/><text class="c" x="1714" y="5416">二、付款方式</text></g>
<g id="y4" class="ny"><path d="M1680 5574h68l6 12l-6 12h-68l-6 -12z"/><text class="c" x="1714" y="5590">三、工程期限</text></g>
<g id="y5" class="ny"><path d="M1680 5779h129l6 12l-6 12h-129l-6 -12z"/><text class="c" x="1744.5" y="5795">四、售后服务和保修期限</text></g>
<g id="y2a" class="ny"><path d="M1787 4962h75l6 12l-6 12h-75l-6 -12z"/><text class="c" x="1824.5" y="4978">1、工程地点:</text></g>
<g id="y2b" class="ny"><path d="M1787 5015h75l6 12l-6 12h-75l-6 -12z"/><text class="c" x="1824.5" y="5031">2、承包范围:</text></g>
<g id="y2c" class="ny"><path d="M1787 5067h75l6 12l-6 12h-75l-6 -12z"/><text class="c" x="1824.5" y="5083">3、工程名称:</text></g>
<g id="y2d" class="ny"><path d="M1787 5120h49l6 12l-6 12h-49l-6 -12z"/><text class="c" x="1811.5" y="5136">4、工期:</text></g>
<g id="y2d1" class="ny"><path d="M1876 5120h219l6 12l-6 12h-219l-6 -12z"/><text class="c" x="1985.5" y="5136">本工程自 年 月 日签订后于 年 月 日完工。</text></g>
<g id="y2e" class="ny"><path d="M1787 5173h98l6 12l-6 12h-98l-6 -12z"/><text class="c" x="1836" y="5189">5、工程质量达优。</text></g>
<g id="y2f" class="ny"><path d="M1787 5228.5h234l6 19.5l-6 19.5h-234l-6 -19.5z"/><text x="1786" y="5244.3">6、音响设备总造价(人民币)大写元整，小写<tspan x="1786" dy="15.4">元整。</tspan></text></g>
<g id="y2g" class="ny"><path d="M1787 5294h181l6 12l-6 12h-181l-6 -12z"/><text class="c" x="1877.5" y="5310">7、包括安装调试及线材运输税收。</text></g>
<g id="y3a" class="ny"><path d="M1787 5346h234l6 27l-6 27h-234l-6 -27z"/><text x="1786" y="5361.6">1、协议经甲、乙双方签字盖章后生效，甲方<tspan x="1786" dy="15.4">应支付乙方工程款造价总金额的30%，即人</tspan><tspan x="1786" dy="15.4">民币大写 元整作为工程定金，小写 元整。</tspan></text></g>
<g id="y3b" class="ny"><path d="M1787 5429.5h234l6 19.5l-6 19.5h-234l-6 -19.5z"/><text x="1786" y="5445.3">2、余款工程造价为70%，即人民币大写元整<tspan x="1786" dy="15.4">，小写</tspan></text></g>
<g id="y4a" class="ny"><path d="M1787 5498.5h234l6 19.5l-6 19.5h-234l-6 -19.5z"/><text x="1786" y="5514.3">1、按甲、乙双方协商的时间安装调试，乙方<tspan x="1786" dy="15.4">不得拖延时间。</tspan></text></g>
<g id="y4b" class="ny"><path d="M1787 5566.5h234l6 19.5l-6 19.5h-234l-6 -19.5z"/><text x="1786" y="5582.3">2、甲方要提供乙方完整的施工场地，必要时<tspan x="1786" dy="15.4">提供夜间施工的方便。</tspan></text></g>
<g id="y4c" class="ny"><path d="M1787 5634.5h234l6 19.5l-6 19.5h-234l-6 -19.5z"/><text x="1786" y="5650.3">3、乙方的施工人员必须要遵守甲方的施工现<tspan x="1786" dy="15.4">场的安全等管理。</tspan></text></g>
<g id="y5a" class="ny"><path d="M1847 5702.5h234l6 19.5l-6 19.5h-234l-6 -19.5z"/><text x="1846" y="5718.3">1、本协议设备保修期为壹年，保修设备具体<tspan x="1846" dy="15.4">见清单。</tspan></text></g>
<g id="y5b" class="ny"><path d="M1847 5770h97l6 12l-6 12h-97l-6 -12z"/><text class="c" x="1895.5" y="5786">2、消耗品不保修。</text></g>
<g id="y5c" class="ny"><path d="M1847 5849h228l6 12l-6 12h-228l-6 -12z"/><text class="c" x="1961" y="5865">3、本协议一式两份，甲、乙双方各执一份。</text></g>
<g id="y5c1" class="ny"><path d="M2115 5823h132l6 12l-6 12h-132l-6 -12z"/><text class="c" x="2181" y="5839">甲方(盖章)： 乙方(盖章)：</text></g>
<g id="y5c2" class="ny"><path d="M2115 5876h139l6 12l-6 12h-139l-6 -12z"/><text class="c" x="2184.5" y="5892">法定代表人： 法定代表人：</text></g>
<g id="y5c2a" class="ny"><path d="M2294 5876h38l6 12l-6 12h-38l-6 -12z"/><text class="c" x="2313" y="5892">年 月 日</text></g>

<g id="l1" class="ni"><path d="M923 1636h32l6 12l-6 12h-32l-6 -12z"/><text class="c" x="939" y="1652">甲方:</text></g>
<g id="l2" class="ni"><path d="M923 1690h32l6 12l-6 12h-32l-6 -12z"/><text class="c" x="939" y="1706">乙方:</text></g>
<g id="l3" class="ni"><path d="M720 2123h235l6 27l-6 27h-235l-6 -27z"/><text x="719" y="2138.6">经甲乙双方友好协商，乙方为甲方承接的( )工<tspan x="719" dy="15.4">程提供音响设备，签定设备供货合同条款如下</tspan><tspan x="719" dy="15.4">:</tspan></text></g>
<g id="l4" class="ni"><path d="M884 2590h71l6 12l-6 12h-71l-6 -12z"/><text class="c" x="919.5" y="2606">甲方： 乙方:</text></g>
<g id="l5" class="ni"><path d="M861 2642h94l6 12l-6 12h-94l-6 -12z"/><text class="c" x="908" y="2658">代表人： 代表人:</text></g>
<g id="l5a" class="ni"><path d="M735 2642h88l6 12l-6 12h-88l-6 -12z"/><text class="c" x="779" y="2658">年 月 日 年 月 日</text></g>
<g id="l3a" class="ni"><path d="M531 1743h153l6 12l-6 12h-153l-6 -12z"/><text class="c" x="607.5" y="1759">一、设备型号：详见设备清单</text></g>
<g id="l3b" class="ni"><path d="M488 1795h196l6 12l-6 12h-196l-6 -12z"/><text class="c" x="586" y="1811">二、音响设备款：人民币 ，大写： 。</text></g>
<g id="l3c" class="ni"><path d="M455 1847h229l6 12l-6 12h-229l-6 -12z"/><text class="c" x="569.5" y="1863">三、led显示屏设备款：人民币 元,大写： 。</text></g>
<g id="l3d" class="ni"><path d="M447 1900.5h237l6 19.5l-6 19.5h-237l-6 -19.5z"/><text x="446" y="1916.3">四、乙方保证所有设备完全按照器材清单所列<tspan x="446" dy="15.4">品牌，型号提供。</tspan></text></g>
<g id="l3e" class="ni"><path d="M447 1968.5h237l6 19.5l-6 19.5h-237l-6 -19.5z"/><text x="446" y="1984.3">五、施工时间：甲、乙双方协商于 开始施工<tspan x="446" dy="15.4">。</tspan></text></g>
<g id="l3f" class="ni"><path d="M447 2037h237l6 35l-6 35h-237l-6 -35z"/><text x="446" y="2052.9">六、付款方式：合同总价款为人民币： ，签<tspan x="446" dy="15.4">订合同后甲方付给乙方合同额50%计： ，安</tspan><tspan x="446" dy="15.4">装调试完毕后，剩余50%计： ，到 年 月 日</tspan><tspan x="446" dy="15.4">付清。</tspan></text></g>
<g id="l3g" class="ni"><path d="M447 2135.5h237l6 19.5l-6 19.5h-237l-6 -19.5z"/><text x="446" y="2151.3">七、售后保证：乙方向甲方提供相应技术支持<tspan x="446" dy="15.4">和技术服务。所供器材免费保修一年。</tspan></text></g>
<g id="l3h" class="ni"><path d="M602 2298h82l6 12l-6 12h-82l-6 -12z"/><text class="c" x="643" y="2314">八、违约责任:</text></g>
<g id="l3h1" class="ni"><path d="M330 2204h236l6 27l-6 27h-236l-6 -27z"/><text x="329" y="2219.6">1、甲乙双方在签订本购销合同后，若甲方毁<tspan x="329" dy="15.4">约单方面终止本合同，甲方应将已交付货款作</tspan><tspan x="329" dy="15.4">为违约金折抵给乙方。</tspan></text></g>
<g id="l3h2" class="ni"><path d="M330 2287h236l6 27l-6 27h-236l-6 -27z"/><text x="329" y="2302.6">2、如乙方未按期交货，每逾期1天，应向甲<tspan x="329" dy="15.4">方支付总货款1‰的违约金(甲方未付清总货</tspan><tspan x="329" dy="15.4">款的除外)。</tspan></text></g>
<g id="l3h3" class="ni"><path d="M330 2370.5h236l6 19.5l-6 19.5h-236l-6 -19.5z"/><text x="329" y="2386.3">3、甲方未及时完全向乙方支付本合同所有款<tspan x="329" dy="15.4">项前，本合同产品所有权属于乙方。</tspan></text></g>
<g id="l3i" class="ni"><path d="M447 2439h237l6 27l-6 27h-237l-6 -27z"/><text x="446" y="2454.6">九、本合同一经签订，双方必须严格履行。若<tspan x="446" dy="15.4">有异议或未尽事宜，双方可协商解决，协商不</tspan><tspan x="446" dy="15.4">成应向乙方住所地人民法院提起诉讼。</tspan></text></g>
<g id="l3j" class="ni"><path d="M447 2519.5h237l6 19.5l-6 19.5h-237l-6 -19.5z"/><text x="446" y="2535.3">十、本合同一式两份双方签字(盖章)后生效，<tspan x="446" dy="15.4">甲乙双方各持一份。</tspan></text></g>

<g id="s1" class="ns"><path d="M898 2696h57l6 12l-6 12h-57l-6 -12z"/><text class="c" x="926.5" y="2712">合同编号:</text></g>
<g id="s2" class="ns"><path d="M863 2748h92l6 12l-6 12h-92l-6 -12z"/><text class="c" x="909" y="2764">甲方：签订日期:</text></g>
<g id="s3" class="ns"><path d="M863 2800h92l6 12l-6 12h-92l-6 -12z"/><text class="c" x="909" y="2816">乙方：签订地点:</text></g>
<g id="s4" class="ns"><path d="M720 3184.5h235l6 19.5l-6 19.5h-235l-6 -19.5z"/><text x="719" y="3200.3">甲乙双方近友好协商，乙方受甲方委托，提供<tspan x="719" dy="15.4">各项服务事宜如下:</tspan></text></g>
<g id="s5" class="ns"><path d="M884 3791h71l6 12l-6 12h-71l-6 -12z"/><text class="c" x="919.5" y="3807">甲方： 乙方:</text></g>
<g id="s6" class="ns"><path d="M884 3844h71l6 12l-6 12h-71l-6 -12z"/><text class="c" x="919.5" y="3860">地址： 地址:</text></g>
<g id="s7" class="ns"><path d="M861 3896h94l6 12l-6 12h-94l-6 -12z"/><text class="c" x="908" y="3912">代表人： 代表人:</text></g>
<g id="s8" class="ns"><path d="M884 3949h71l6 12l-6 12h-71l-6 -12z"/><text class="c" x="919.5" y="3965">盖章： 盖章:</text></g>
<g id="s9" class="ns"><path d="M884 4002h71l6 12l-6 12h-71l-6 -12z"/><text class="c" x="919.5" y="4018">电话： 电话:</text></g>
<g id="s10" class="ns"><path d="M884 4055h71l6 12l-6 12h-71l-6 -12z"/><text class="c" x="919.5" y="4071">传真： 传真:</text></g>
<g id="s4a" class="ns"><path d="M591 2853h93l6 12l-6 12h-93l-6 -12z"/><text class="c" x="637.5" y="2869">一、租赁设备： 。</text></g>
<g id="s4a1" class="ns"><path d="M413 2853h140l6 12l-6 12h-140l-6 -12z"/><text class="c" x="483" y="2869">电源、场地等请甲方准备。</text></g>
<g id="s4b" class="ns"><path d="M447 2906.5h237l6 19.5l-6 19.5h-237l-6 -19.5z"/><text x="446" y="2922.3">二、服务日期： 年 月 日 时至 年 月 日 时止<tspan x="446" dy="15.4">。</tspan></text></g>
<g id="s4b1" class="ns"><path d="M178 2906.5h234l6 19.5l-6 19.5h-234l-6 -19.5z"/><text x="177" y="2922.3">如活动时间为一天，甲方需提供乙方午餐及饮<tspan x="177" dy="15.4">料.</tspan></text></g>
<g id="s4c" class="ns"><path d="M602 2974h82l6 12l-6 12h-82l-6 -12z"/><text class="c" x="643" y="2990">三、服务地点:</text></g>
<g id="s4d" class="ns"><path d="M602 3027h82l6 12l-6 12h-82l-6 -12z"/><text class="c" x="643" y="3043">四、服务性质:</text></g>
<g id="s4e" class="ns"><path d="M502 3182h182l6 12l-6 12h-182l-6 -12z"/><text class="c" x="593" y="3198">五、租金支付：全款总额 人民币。</text></g>
<g id="s4e1" class="ns"><path d="M387 3079h80l6 12l-6 12h-80l-6 -12z"/><text class="c" x="427" y="3095">此为不含税价。</text></g>
<g id="s4e2" class="ns"><path d="M232 3132h235l6 27l-6 27h-235l-6 -27z"/><text x="231" y="3147.6">如甲方负责运输，则按双方约定的时间到乙方<tspan x="231" dy="15.4">公司接人员及设备,并在活动结束后负责运回</tspan><tspan x="231" dy="15.4">。</tspan></text></g>
<g id="s4e3" class="ns"><path d="M232 3215.5h235l6 19.5l-6 19.5h-235l-6 -19.5z"/><text x="231" y="3231.3">在活动当天,服务人员与设备全部运到并安装<tspan x="231" dy="15.4">调试后,甲方需全款结给乙方,作为劳务报酬。</tspan></text></g>
<g id="s4e4" class="ns"><path d="M327 3283h140l6 12l-6 12h-140l-6 -12z"/><text class="c" x="397" y="3299">如为多天活动，则需另议。</text></g>
<g id="s4f" class="ns"><path d="M602 3532h82l6 12l-6 12h-82l-6 -12z"/><text class="c" x="643" y="3548">六、违约条款:</text></g>
<g id="s4f1" class="ns"><path d="M330 3337.5h236l6 19.5l-6 19.5h-236l-6 -19.5z"/><text x="329" y="3353.3">1、双方在签订合同之后，如一方无故取消，<tspan x="329" dy="15.4">需赔偿违约金，为实际损失。</tspan></text></g>
<g id="s4f2" class="ns"><path d="M330 3404.5h236l6 19.5l-6 19.5h-236l-6 -19.5z"/><text x="329" y="3420.3">2、如遇天气和人为原因使活动不能举行或中<tspan x="329" dy="15.4">途中断，责任由甲方负责。</tspan></text></g>
<g id="s4f3" class="ns"><path d="M330 3470h236l6 27l-6 27h-236l-6 -27z"/><text x="329" y="3485.6">3、如为多天活动，设备需放置在活动地点，<tspan x="329" dy="15.4">甲方负责设备的保管，如发生设备损坏、丢失</tspan><tspan x="329" dy="15.4">等情况，甲方需照价赔偿给乙方。</tspan></text></g>
<g id="s4f4" class="ns"><path d="M330 3556h236l6 27l-6 27h-236l-6 -27z"/><text x="329" y="3571.6">4、本合同按照^v^有关法律规定，如有未尽<tspan x="329" dy="15.4">事宜，双方需另拟书面协议或依有关法令法规</tspan><tspan x="329" dy="15.4">办理。</tspan></text></g>
<g id="s4f4a" class="ns"><path d="M59 3563.5h234l6 19.5l-6 19.5h-234l-6 -19.5z"/><text x="58" y="3579.3">如有争议，双方协商，不能圆满解决，将依照^v<tspan x="58" dy="15.4">^有关法律由仲裁机构解决。</tspan></text></g>
<g id="s4f5" class="ns"><path d="M330 3639.5h236l6 19.5l-6 19.5h-236l-6 -19.5z"/><text x="329" y="3655.3">5、本合同一式两份，甲乙双方各持一份，经<tspan x="329" dy="15.4">双方签字盖章，即时生效。</tspan></text></g>
<g id="s4f6" class="ns"><path d="M330 3707h236l6 27l-6 27h-236l-6 -27z"/><text x="329" y="3722.6">6、对于此次活动的配音师有何评定：优良中<tspan x="329" dy="15.4">差原因7、对于此次活动的音响设备有何评价</tspan><tspan x="329" dy="15.4">：优良中差原因七、补充规定：现金结算。</tspan></text></g>

<g id="g1" class="ng"><path d="M840 4107h115l6 12l-6 12h-115l-6 -12z"/><text class="c" x="897.5" y="4123">甲方： (以下简称甲方)</text></g>
<g id="g2" class="ng"><path d="M840 4160h115l6 12l-6 12h-115l-6 -12z"/><text class="c" x="897.5" y="4176">乙方： (以下简称乙方)</text></g>
<g id="g3" class="ng"><path d="M720 4213.5h235l6 42.5l-6 42.5h-235l-6 -42.5z"/><text x="719" y="4229.2">乙方自愿承揽 演艺厅音响、灯光及大型led舞<tspan x="719" dy="15.4">台背景彩色显示屏全部系统设备的配置设计和</tspan><tspan x="719" dy="15.4">施工安装工程，为明确双方责任, 经甲、乙双</tspan><tspan x="719" dy="15.4">方友好协商达成一致,特订立本协议合同条款</tspan><tspan x="719" dy="15.4">如下:</tspan></text></g>
<g id="g4" class="ng"><path d="M848 4343h107l6 12l-6 12h-107l-6 -12z"/><text class="c" x="901.5" y="4359">一、工程内容及地点:</text></g>
<g id="g4a" class="ng"><path d="M577 4328h234l6 27l-6 27h-234l-6 -27z"/><text x="576" y="4343.6">演艺厅舞台演出所需的全部设备配置设计及施<tspan x="576" dy="15.4">工安装调试工程(详见乙方设计的所有设备配</tspan><tspan x="576" dy="15.4">置的明细清单附件)</tspan></text></g>
<g id="g5" class="ng"><path d="M875 4424h80l6 12l-6 12h-80l-6 -12z"/><text class="c" x="915" y="4440">二、工程造价:</text></g>
<g id="g5a" class="ng"><path d="M604 4404h232l6 27l-6 27h-232l-6 -27z"/><text x="603" y="4419.6">本工程造价是乙方为甲方提供全部设备配置报<tspan x="603" dy="15.4">价清单的折后合同总价(见附件的报价)，为大</tspan><tspan x="603" dy="15.4">写人民币：（￥： 元）</tspan></text></g>
<g id="g6" class="ng"><path d="M884 4615h71l6 12l-6 12h-71l-6 -12z"/><text class="c" x="919.5" y="4631">三、付款方式:</text></g>
<g id="g6a" class="ng"><path d="M612 4491.5h234l6 19.5l-6 19.5h-234l-6 -19.5z"/><text x="611" y="4507.3">1.协议签订生效后，甲方即支付乙方本工程总<tspan x="611" dy="15.4">造价20%的工程款作为工程定金。</tspan></text></g>
<g id="g6b" class="ng"><path d="M612 4560.5h234l6 42.5l-6 42.5h-234l-6 -42.5z"/><text x="611" y="4576.2">2.货物到达甲方工程所在工地，甲方按乙方设<tspan x="611" dy="15.4">计全部音响、和灯光及大型led彩屏的所有设</tspan><tspan x="611" dy="15.4">备配置清单附件进行验收，全部验收合格后甲</tspan><tspan x="611" dy="15.4">方应立即支付本工程总造价50%的工程设备</tspan><tspan x="611" dy="15.4">款，乙方随即开始施工。</tspan></text></g>
<g id="g6c" class="ng"><path d="M612 4675.5h234l6 65.5l-6 65.5h-234l-6 -65.5z"/><text x="611" y="4691.1">3.工程设备全部安装施工调试完毕，乙方通知<tspan x="611" dy="15.4">甲方对本次工程进行全面验收，经甲方验收达</tspan><tspan x="611" dy="15.4">到了专业演艺厅的全套配置设计的标准效果，</tspan><tspan x="611" dy="15.4">甲方即结清本工程总造价25%的工程款，余</tspan><tspan x="611" dy="15.4">下本工程总造价5%的未结尾款，作为本次工</tspan><tspan x="611" dy="15.4">程的质量保证金，在甲方开业六个月后，一年</tspan><tspan x="611" dy="15.4">内无质量问题即可全部结清本工程全部质保尾</tspan><tspan x="611" dy="15.4">款。</tspan></text></g>
<g id="g7" class="ng"><path d="M875 4882h80l6 12l-6 12h-80l-6 -12z"/><text class="c" x="915" y="4898">四、工程期限:</text></g>
<g id="g7a" class="ng"><path d="M604 4836h232l6 58l-6 58h-232l-6 -58z"/><text x="603" y="4851.8">自甲方通知乙方进场之日起 五个工作日内进<tspan x="603" dy="15.4">行排线设计工程。等装修结束后，甲方通知乙</tspan><tspan x="603" dy="15.4">方必须在11个工作日内进行设备安装施工调</tspan><tspan x="603" dy="15.4">试全面完工后，乙方通知甲方验收，甲方三日</tspan><tspan x="603" dy="15.4">内未对本工程进行验收，视同本工程验收合格</tspan><tspan x="603" dy="15.4">。如因甲方装璜进度等原因影响乙方的工程系</tspan><tspan x="603" dy="15.4">统安装进度,则工期顺延，乙方概不负责。</tspan></text></g>
<g id="g8" class="ng"><path d="M875 5267h80l6 12l-6 12h-80l-6 -12z"/><text class="c" x="915" y="5283">五、双方责任:</text></g>
<g id="g8a" class="ng"><path d="M761 5100h77l6 12l-6 12h-77l-6 -12z"/><text class="c" x="799.5" y="5116">(一)甲方责任:</text></g>
<g id="g8a1" class="ng"><path d="M527 4979h199l6 12l-6 12h-199l-6 -12z"/><text class="c" x="626.5" y="4995">1.根据协议付款条例按期支付工程款。</text></g>
<g id="g8a2" class="ng"><path d="M527 5032h199l6 12l-6 12h-199l-6 -12z"/><text class="c" x="626.5" y="5048">2.提供工具房给乙方自行管理、使用。</text></g>
<g id="g8a3" class="ng"><path d="M502 5085h224l6 12l-6 12h-224l-6 -12z"/><text class="c" x="614" y="5101">3.指定专人负责本工程施工中的协调工作。</text></g>
<g id="g8a4" class="ng"><path d="M489 5138h237l6 27l-6 27h-237l-6 -27z"/><text x="488" y="5153.6">4.提供完整的施工场地、水电设施，土建设施<tspan x="488" dy="15.4">甲乙双方共同协调，必要时提供夜间施工的方</tspan><tspan x="488" dy="15.4">便。</tspan></text></g>
<g id="g8a5" class="ng"><path d="M563 5221h163l6 12l-6 12h-163l-6 -12z"/><text class="c" x="644.5" y="5237">5.甲方提供乙方施工人员食宿。</text></g>
<g id="g8b" class="ng"><path d="M761 5434h77l6 12l-6 12h-77l-6 -12z"/><text class="c" x="799.5" y="5450">(二)乙方责任:</text></g>
<g id="g8b1" class="ng"><path d="M489 5274h237l6 50l-6 50h-237l-6 -50z"/><text x="488" y="5289.5">1.乙方保证为甲方假日酒店演艺厅设计的所有<tspan x="488" dy="15.4">演艺系统设备的配置完全达到演出舞台灯光、</tspan><tspan x="488" dy="15.4">音响、led彩色显示屏的专业效果等各项标准</tspan><tspan x="488" dy="15.4">，提供甲方的所有设备均是全新的、无缺陷的</tspan><tspan x="488" dy="15.4">、与提供给甲方的协议附件清单表全部相符，</tspan><tspan x="488" dy="15.4">并全部都有出厂合格证的优质产品。</tspan></text></g>
<g id="g8b2" class="ng"><path d="M489 5405.5h237l6 19.5l-6 19.5h-237l-6 -19.5z"/><text x="488" y="5421.3">2、乙方提供的所有设备必须是正牌厂家生产<tspan x="488" dy="15.4">的各个规格标准产品;</tspan></text></g>
<g id="g8b3" class="ng"><path d="M489 5472h237l6 27l-6 27h-237l-6 -27z"/><text x="488" y="5487.6">3.施工人员必须遵守甲方施工现场的安全及消<tspan x="488" dy="15.4">防安全等管理规定，施工中的一切安全责任由</tspan><tspan x="488" dy="15.4">乙方全部自行负责及承担。</tspan></text></g>
<g id="g8b4" class="ng"><path d="M527 5555h199l6 12l-6 12h-199l-6 -12z"/><text class="c" x="626.5" y="5571">4.按甲方要求如期完成全部工程任务。</text></g>
<g id="g9" class="ng"><path d="M875 5720h80l6 12l-6 12h-80l-6 -12z"/><text class="c" x="915" y="5736">六、保修期限:</text></g>
<g id="g9a" class="ng"><path d="M684 5608h154l6 12l-6 12h-154l-6 -12z"/><text class="c" x="761" y="5624">1. 本公司负责终身质保维护。</text></g>
<g id="g9b" class="ng"><path d="M629 5660h209l6 12l-6 12h-209l-6 -12z"/><text class="c" x="733.5" y="5676">2. 消耗品不保修(包括话筒、保险丝等)。</text></g>
<g id="g9c" class="ng"><path d="M607 5715h231l6 35l-6 35h-231l-6 -35z"/><text x="606" y="5730.9">3. 保修期内如设备自身出现质量问题由乙方<tspan x="606" dy="15.4">负责免费维修或更换。如因甲方使用不当或人</tspan><tspan x="606" dy="15.4">为因素损坏则甲方支付原器件、配件成本费用</tspan><tspan x="606" dy="15.4">乙方负责免费维修。</tspan></text></g>
<g id="g9d" class="ng"><path d="M607 5813h231l6 35l-6 35h-231l-6 -35z"/><text x="606" y="5828.9">4. 如甲方设备出现故障,乙方接到通知后在24<tspan x="606" dy="15.4">小时内解决问题，如48小时内解决未果,乙方</tspan><tspan x="606" dy="15.4">应及时提供替用设备,以此确保甲方正常营业</tspan><tspan x="606" dy="15.4">，。</tspan></text></g>
<g id="g10" class="ng"><path d="M875 5932h80l6 12l-6 12h-80l-6 -12z"/><text class="c" x="915" y="5948">七、违约责任:</text></g>
<g id="g10a" class="ng"><path d="M607 5910h231l6 35l-6 35h-231l-6 -35z"/><text x="606" y="5925.9">双方必须遵守协议各项条款，如有一方违约发<tspan x="606" dy="15.4">生纠纷(违约金则按工程总款的5%/天计)，未</tspan><tspan x="606" dy="15.4">尽事宜由双方共同协商解决。协商未果，可向</tspan><tspan x="606" dy="15.4">具有诉讼管辖权法院提请诉讼。</tspan></text></g>
<g id="g11" class="ng"><path d="M722 6010h233l6 35l-6 35h-233l-6 -35z"/><text x="721" y="6025.9">八、由乙方设计并提供的《室内ph5 led全彩<tspan x="721" dy="15.4">三合一显示屏方案》《音响设备报价清单》《</tspan><tspan x="721" dy="15.4">灯光报价清单》均为本工程合同的附件，与本</tspan><tspan x="721" dy="15.4">合同具备同等法律效力。</tspan></text></g>
<g id="g12" class="ng"><path d="M722 6205.5h233l6 19.5l-6 19.5h-233l-6 -19.5z"/><text x="721" y="6221.3">九、本协议一式两份,甲乙双方各执一份，双<tspan x="721" dy="15.4">方签字后即生效具同等法律效力。</tspan></text></g>
<g id="g12a" class="ng"><path d="M565 6107h119l6 12l-6 12h-119l-6 -12z"/><text class="c" x="624.5" y="6123">甲方(签章)：乙方(签章)：</text></g>
<g id="g12b" class="ng"><path d="M647 6160h37l6 12l-6 12h-37l-6 -12z"/><text class="c" x="665.5" y="6176">身份证:</text></g>
<g id="g12c" class="ng"><path d="M650 6213h34l6 12l-6 12h-34l-6 -12z"/><text class="c" x="667" y="6229">账号:</text></g>
<g id="g12d" class="ng"><path d="M637 6266h47l6 12l-6 12h-47l-6 -12z"/><text class="c" x="660.5" y="6282">签约地:</text></g>
<g id="g12e" class="ng"><path d="M637 6319h47l6 12l-6 12h-47l-6 -12z"/><text class="c" x="660.5" y="6335">年月日:</text></g>
</g>
</svg>
